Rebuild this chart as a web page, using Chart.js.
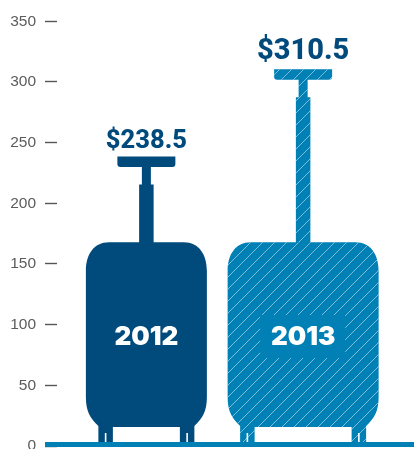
<!DOCTYPE html>
<html>
<head>
<meta charset="utf-8">
<style>
  html, body { margin: 0; padding: 0; background: #fff; }
  #wrap { position: relative; width: 414px; height: 449px; overflow: hidden; }
</style>
<script src="https://cdn.jsdelivr.net/npm/chart.js@4/dist/chart.umd.min.js"></script>
</head>
<body>
<div id="wrap"><canvas id="chart" width="414" height="449"></canvas></div>
<script>
// Checked baggage fees by year, in millions of dollars
const years = ['2012', '2013'];
const fees = [238.5, 310.5];
const valueLabels = ['$238.5', '$310.5'];
const yTicks = [0, 50, 100, 150, 200, 250, 300, 350];

const NAVY = '#004a7c';
const TEAL = '#0080b5';

// Suitcase proportions, all in pixels except where noted
const bodyTopValue = 168;              // the case itself stops at this axis value
const bodyWidths = [121, 151];
const hatched = [false, true];

function suitcasePath(ctx, cx, bodyW, top, base) {
  const l = cx - bodyW / 2, r = cx + bodyW / 2;
  const legW = 14.5, legInset = 12.5;
  const bodyBottom = base - 19;
  const rx = 23, ry = 29, rb = 30;
  ctx.beginPath();
  ctx.moveTo(l + rx, top);
  ctx.lineTo(r - rx, top);
  ctx.bezierCurveTo(r - 8, top, r, top + 12, r, top + ry);
  ctx.lineTo(r, bodyBottom - rb);
  ctx.bezierCurveTo(r, bodyBottom - 16, r - 4, bodyBottom - 9, r - legInset, bodyBottom - 1);
  ctx.lineTo(r - legInset, base);
  ctx.lineTo(r - legInset - legW, base);
  ctx.lineTo(r - legInset - legW, bodyBottom);
  ctx.lineTo(l + legInset + legW, bodyBottom);
  ctx.lineTo(l + legInset + legW, base);
  ctx.lineTo(l + legInset, base);
  ctx.lineTo(l + legInset, bodyBottom - 1);
  ctx.bezierCurveTo(l + 4, bodyBottom - 9, l, bodyBottom - 16, l, bodyBottom - rb);
  ctx.lineTo(l, top + ry);
  ctx.bezierCurveTo(l, top + 12, l + 8, top, l + rx, top);
  ctx.closePath();
}

function handlePath(ctx, cx, barTop, bodyTop) {
  const gripW = 58, gripH = 10.5, neckW = 9, tubeW = 14.5;
  const tubeTop = barTop + 28;
  ctx.beginPath();
  ctx.moveTo(cx - gripW / 2, barTop);
  ctx.lineTo(cx + gripW / 2, barTop);
  ctx.lineTo(cx + gripW / 2, barTop + gripH - 3);
  ctx.quadraticCurveTo(cx + gripW / 2, barTop + gripH, cx + gripW / 2 - 3, barTop + gripH);
  ctx.lineTo(cx + neckW / 2, barTop + gripH);
  ctx.lineTo(cx + neckW / 2, tubeTop);
  ctx.lineTo(cx + tubeW / 2, tubeTop);
  ctx.lineTo(cx + tubeW / 2, bodyTop + 1);
  ctx.lineTo(cx - tubeW / 2, bodyTop + 1);
  ctx.lineTo(cx - tubeW / 2, tubeTop);
  ctx.lineTo(cx - neckW / 2, tubeTop);
  ctx.lineTo(cx - neckW / 2, barTop + gripH);
  ctx.lineTo(cx - gripW / 2 + 3, barTop + gripH);
  ctx.quadraticCurveTo(cx - gripW / 2, barTop + gripH, cx - gripW / 2, barTop + gripH - 3);
  ctx.closePath();
}

// Thin diagonal lines clipped to whatever path is current
function hatch(ctx, x0, y0, x1, y1) {
  ctx.save();
  ctx.clip();
  ctx.strokeStyle = 'rgba(255,255,255,0.55)';
  ctx.lineWidth = 0.9;
  const step = 12, phase = 1;
  const h = y1 - y0;
  ctx.beginPath();
  // Lines rise left to right at 45 degrees; phase is tied to absolute position
  for (let k = Math.floor((x0 + y0) / step); k * step < x1 + y1; k++) {
    const c = k * step + phase;   // x + y is constant along a line
    ctx.moveTo(c - y1, y1);
    ctx.lineTo(c - y1 + h, y0);
  }
  ctx.stroke();
  ctx.restore();
}

const suitcasePlugin = {
  id: 'suitcase',
  // Every bar is painted as a suitcase whose handle reaches the bar's value
  beforeDatasetDraw(chart, args) {
    const { ctx, scales } = chart;
    const meta = args.meta;
    meta.data.forEach((bar, i) => {
      const base = scales.y.getPixelForValue(0);
      const bodyTop = scales.y.getPixelForValue(bodyTopValue);
      const color = hatched[i] ? TEAL : NAVY;
      ctx.save();
      ctx.fillStyle = color;

      handlePath(ctx, bar.x, bar.y, bodyTop);
      ctx.fill();
      if (hatched[i]) hatch(ctx, bar.x - 40, bar.y, bar.x + 40, bodyTop);

      suitcasePath(ctx, bar.x, bodyWidths[i], bodyTop, base);
      ctx.fill();
      if (hatched[i]) hatch(ctx, bar.x - 90, bodyTop, bar.x + 90, base);

      // Slit between the wheels of each leg
      ctx.fillStyle = '#fff';
      [-1, 1].forEach(side => {
        const legCx = bar.x + side * (bodyWidths[i] / 2 - 19.75);
        ctx.fillRect(legCx - 0.8, base - 13, 1.6, 13);
      });

      // Year plate in the middle of the case
      const midY = 337;
      if (hatched[i]) {
        ctx.fillStyle = color;
        ctx.fillRect(bar.x - 43, midY - 22, 85, 43);
      }
      ctx.fillStyle = '#fff';
      ctx.font = '900 26px Inter, Roboto, sans-serif';
      ctx.textAlign = 'center';
      ctx.textBaseline = 'middle';
      ctx.fillText(years[i], bar.x, midY);

      // Amount above the handle
      ctx.fillStyle = NAVY;
      ctx.font = (i ? '800 29px' : '800 25.5px') + ' Roboto, sans-serif';
      ctx.textBaseline = 'alphabetic';
      ctx.fillText(valueLabels[i], bar.x, bar.y - (i ? 10 : 9));
      ctx.restore();
    });
    return false;
  },
  // Heavy baseline running across the full width
  afterDraw(chart) {
    const { ctx, scales } = chart;
    const y = scales.y.getPixelForValue(0);
    ctx.save();
    ctx.fillStyle = TEAL;
    ctx.fillRect(45, y - 4, 369, 5);
    ctx.restore();
  }
};

new Chart(document.getElementById('chart'), {
  type: 'bar',
  data: {
    labels: years,
    datasets: [{ data: fees, backgroundColor: NAVY }]
  },
  plugins: [suitcasePlugin],
  options: {
    responsive: false,
    animation: false,
    layout: { padding: { top: 21.3, right: 32.5, bottom: 3, left: 0 } },
    plugins: { legend: { display: false }, tooltip: { enabled: false } },
    scales: {
      x: { display: false },
      y: {
        min: 0,
        max: 350,
        afterBuildTicks(scale) { scale.ticks = yTicks.map(value => ({ value })); },
        afterFit(scale) {
          scale.width = 68;
          scale.paddingTop = 0;
          scale.paddingBottom = 0;
        },
        border: { display: false },
        grid: {
          drawOnChartArea: false,
          tickLength: 23,
          tickColor: '#555',
          tickWidth: 1.4,
          tickBorderDash: [12, 40]
        },
        ticks: {
          color: '#5c5c5c',
          padding: 9,
          font: { family: 'Liberation Sans, Arial, sans-serif', size: 15.5 }
        }
      }
    }
  }
});
</script>
</body>
</html>
